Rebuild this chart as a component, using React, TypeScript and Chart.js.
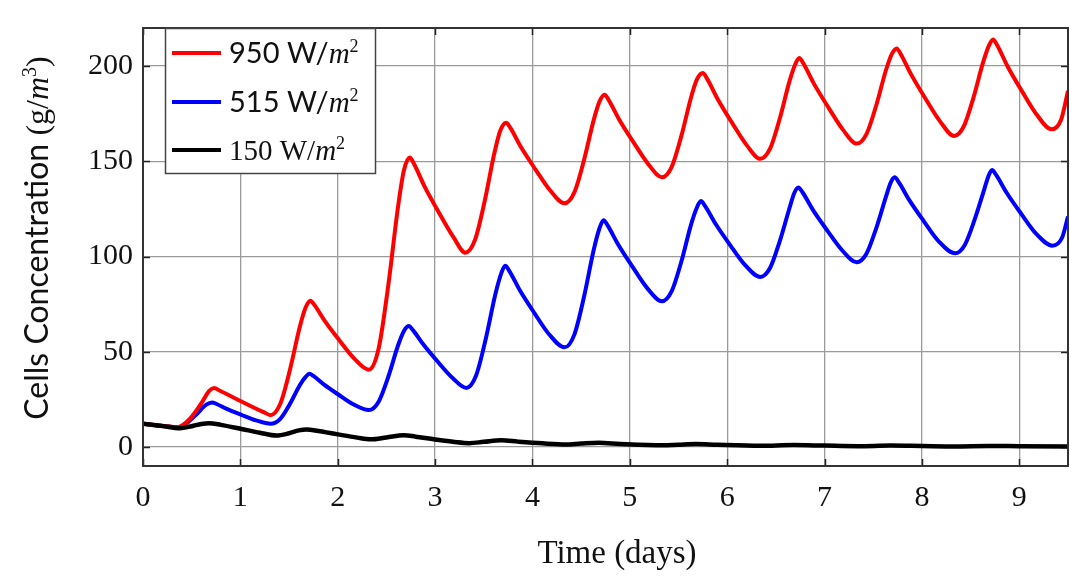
import React, { useEffect, useRef } from "react";
import { Chart, registerables } from "chart.js";

Chart.register(...registerables);

const xTicks = [0, 1, 2, 3, 4, 5, 6, 7, 8, 9];
const yTicks = [0, 50, 100, 150, 200];
const X_MAX = 9.5;
const Y_MIN = -10;
const Y_MAX = 220;

const legendValues = ["950", "515", "150"];

// [time (days), concentration (g/m^3)]
const red950: number[][] = [
  [0, 12.2], [0.2, 11], [0.36, 10.4], [0.48, 14.7], [0.6, 23], [0.68, 29.5], [0.73, 31],
  [0.79, 29.5], [1.25, 18], [1.31, 16.7],
  [1.41, 22.7], [1.51, 40.7], [1.61, 63.0], [1.67, 73.2], [1.72, 76.8],
  [1.76, 74.6], [1.87, 65.9], [2.02, 55.8], [2.17, 46.4], [2.32, 40.6],
  [2.42, 51.7], [2.52, 85.2], [2.62, 126.4], [2.68, 145.3], [2.74, 152],
  [2.78, 149], [2.89, 137], [3.04, 123], [3.19, 110], [3.31, 102],
  [3.41, 108.8], [3.51, 129.3], [3.61, 154.6], [3.67, 166.2], [3.73, 170.3],
  [3.77, 167.8], [3.88, 157.6], [4.03, 145.8], [4.18, 134.8], [4.33, 128],
  [4.43, 133.7], [4.53, 150.8], [4.63, 171.9], [4.69, 181.6], [4.74, 185],
  [4.78, 182.4], [4.89, 172], [5.04, 159.8], [5.19, 148.5], [5.33, 141.6],
  [5.43, 147.1], [5.53, 163.5], [5.63, 183.8], [5.69, 193.1], [5.75, 196.4],
  [5.79, 193.7], [5.9, 182.9], [6.05, 170.2], [6.2, 158.5], [6.34, 151.3],
  [6.44, 156.6], [6.54, 172.5], [6.64, 192.1], [6.7, 201.1], [6.74, 204.3],
  [6.78, 201.6], [6.89, 190.8], [7.04, 178.2], [7.19, 166.5], [7.33, 159.3],
  [7.43, 164.3], [7.53, 179.3], [7.63, 197.8], [7.69, 206.3], [7.74, 209.3],
  [7.78, 206.5], [7.89, 195.5], [8.04, 182.6], [8.19, 170.7], [8.33, 163.3],
  [8.43, 168.4], [8.53, 183.6], [8.63, 202.3], [8.69, 211], [8.73, 214],
  [8.77, 211.2], [8.88, 199.8], [9.03, 186.6], [9.18, 174.4], [9.33, 166.8],
  [9.43, 172], [9.5, 187],
];

const blue515: number[][] = [
  [0, 12.2], [0.2, 11], [0.36, 10.4], [0.45, 12.5], [0.55, 17.2], [0.65, 22.2], [0.71, 23.4],
  [0.75, 22.7], [0.86, 20.0], [1.01, 16.9], [1.16, 14.0], [1.31, 12.2],
  [1.41, 14.8], [1.51, 22.7], [1.61, 32.4], [1.67, 36.8], [1.71, 38.4],
  [1.75, 37.3], [1.86, 32.7], [2.01, 27.4], [2.16, 22.4], [2.32, 19.4],
  [2.42, 23.8], [2.52, 37.0], [2.62, 53.4], [2.68, 60.9], [2.73, 63.5],
  [2.77, 61.5], [2.88, 53.8], [3.03, 44.6], [3.18, 36.2], [3.32, 31],
  [3.42, 37.4], [3.52, 56.7], [3.62, 80.4], [3.68, 91.3], [3.72, 95.2],
  [3.76, 92.6], [3.87, 82.3], [4.02, 70.3], [4.17, 59.2], [4.33, 52.3],
  [4.43, 59.0], [4.53, 79.0], [4.63, 103.7], [4.69, 115.1], [4.73, 119.1],
  [4.77, 116.5], [4.88, 106.3], [5.03, 94.4], [5.18, 83.3], [5.33, 76.5],
  [5.43, 81.8], [5.53, 97.5], [5.63, 117.0], [5.69, 125.9], [5.73, 129.1],
  [5.77, 126.7], [5.88, 117.2], [6.03, 106.0], [6.18, 95.7], [6.34, 89.3],
  [6.44, 94.0], [6.54, 108.1], [6.64, 125.5], [6.69, 133.5], [6.73, 136.3],
  [6.77, 134.0], [6.88, 124.5], [7.03, 113.5], [7.18, 103.3], [7.33, 97],
  [7.43, 101.5], [7.53, 114.8], [7.63, 131.3], [7.68, 138.9], [7.72, 141.6],
  [7.76, 139.2], [7.87, 129.6], [8.02, 118.5], [8.17, 108.1], [8.34, 101.7],
  [8.44, 106.1], [8.54, 119.2], [8.64, 135.3], [8.68, 141.8], [8.72, 145.4],
  [8.76, 143.0], [8.87, 133.5], [9.02, 122.4], [9.17, 112.1], [9.34, 105.7],
  [9.44, 110], [9.5, 121],
];

const black150: number[][] = [
  [0, 12.2], [0.2, 11], [0.38, 9.8], [0.5, 10.9], [0.6, 12.1], [0.68, 12.5], [0.8, 11.6],
  [1.0, 9.6], [1.2, 7.5], [1.37, 6.0], [1.5, 7.2], [1.6, 8.7], [1.68, 9.2], [1.8, 8.4],
  [2.0, 6.6], [2.2, 4.9], [2.34, 4.0], [2.5, 5.0], [2.68, 6.2], [2.8, 5.4], [3.0, 3.9],
  [3.2, 2.6], [3.35, 2.0], [3.5, 2.7], [3.68, 3.5], [3.85, 2.8], [4.1, 1.9], [4.34, 1.3],
  [4.5, 1.8], [4.68, 2.2], [4.9, 1.6], [5.34, 0.9], [5.5, 1.2], [5.68, 1.5], [5.9, 1.1],
  [6.34, 0.6], [6.68, 1.0], [7.0, 0.7], [7.34, 0.4], [7.68, 0.7], [8.0, 0.5], [8.34, 0.3],
  [8.68, 0.5], [9.0, 0.4], [9.5, 0.3],
];

const SERIF = '"Liberation Serif", "Times New Roman", serif';
const SANS = 'Lato, "Noto Sans", sans-serif';

type Run = { t: string; font: string; dy?: number };

function drawRuns(ctx: CanvasRenderingContext2D, runs: Run[], x: number, y: number) {
  let cx = x;
  for (const r of runs) {
    ctx.font = r.font;
    ctx.fillText(r.t, cx, y + (r.dy || 0));
    cx += ctx.measureText(r.t).width;
  }
  return cx - x;
}

function unitRuns(prefix: string, sansPrefix: boolean, sup: string, size: number): Run[] {
  return [
    { t: prefix, font: `${size}px ${sansPrefix ? SANS : SERIF}` },
    { t: "m", font: `italic ${size}px ${SERIF}` },
    { t: sup, font: `${Math.round(size * 0.62)}px ${SERIF}`, dy: -size * 0.38 },
  ];
}

const decorPlugin = {
  id: "decor",
  beforeDatasetsDraw(chart: any) {
    const { ctx, chartArea: a, scales } = chart;
    ctx.save();
    ctx.strokeStyle = "#222";
    ctx.lineWidth = 1.5;
    const tl = 7;
    for (const v of xTicks) {
      const px = Math.round(scales.x.getPixelForValue(v)) + 0.5;
      ctx.beginPath();
      ctx.moveTo(px, a.bottom); ctx.lineTo(px, a.bottom - tl);
      ctx.moveTo(px, a.top); ctx.lineTo(px, a.top + tl);
      ctx.stroke();
    }
    for (const v of yTicks) {
      const py = Math.round(scales.y.getPixelForValue(v)) + 0.5;
      ctx.beginPath();
      ctx.moveTo(a.left, py); ctx.lineTo(a.left + tl, py);
      ctx.moveTo(a.right, py); ctx.lineTo(a.right - tl, py);
      ctx.stroke();
    }
    ctx.restore();
  },
  afterDatasetsDraw(chart: any) {
    const { ctx, chartArea: a } = chart;
    ctx.save();
    // frame
    ctx.strokeStyle = "#333";
    ctx.lineWidth = 2;
    ctx.strokeRect(a.left, a.top, a.right - a.left, a.bottom - a.top);

    // legend
    const bx = 165.5, by = 28.5, bw = 210, bh = 145;
    ctx.fillStyle = "#fff";
    ctx.fillRect(bx, by, bw, bh);
    ctx.strokeStyle = "#444";
    ctx.lineWidth = 1.5;
    ctx.strokeRect(bx, by, bw, bh);
    const colors = ["#ff0000", "#0000ff", "#000000"];
    const rowsY = [53, 102, 150];
    ctx.textBaseline = "alphabetic";
    ctx.fillStyle = "#111";
    legendValues.forEach((val, i) => {
      const y = rowsY[i];
      ctx.strokeStyle = colors[i];
      ctx.lineWidth = 4;
      ctx.beginPath();
      ctx.moveTo(172, y);
      ctx.lineTo(221, y);
      ctx.stroke();
      ctx.fillStyle = "#111";
      const serifItem = i === 2;
      drawRuns(ctx, unitRuns(val + " W/", !serifItem, "2", 29), 229, y + 10);
    });

    // x title
    ctx.fillStyle = "#111";
    ctx.font = `33px ${SERIF}`;
    ctx.textAlign = "center";
    ctx.fillText("Time (days)", 617, 563);

    // y title
    ctx.save();
    ctx.translate(48, 238);
    ctx.rotate(-Math.PI / 2);
    ctx.textAlign = "left";
    const runs: Run[] = [
      { t: "Cells Concentration ", font: `32px ${SANS}` },
      { t: "(g/", font: `32px ${SERIF}` },
      { t: "m", font: `italic 32px ${SERIF}` },
      { t: "3", font: `20px ${SERIF}`, dy: -12 },
      { t: ")", font: `32px ${SERIF}` },
    ];
    let w = 0;
    for (const r of runs) { ctx.font = r.font; w += ctx.measureText(r.t).width; }
    drawRuns(ctx, runs, -w / 2, 0);
    ctx.restore();
    ctx.restore();
  },
};

export default function App() {
  const ref = useRef<HTMLCanvasElement | null>(null);
  useEffect(() => {
    if (!ref.current) return;
    const toXY = (arr: number[][]) => arr.map(([x, y]) => ({ x, y }));
    const common = { pointRadius: 0, cubicInterpolationMode: "monotone" as const, fill: false };
    const chart = new Chart(ref.current, {
      type: "line",
      data: {
        datasets: [
          { label: "150 W/m2", data: toXY(black150), borderColor: "#000000", borderWidth: 4.5, ...common },
          { label: "950 W/m2", data: toXY(red950), borderColor: "#ff0000", borderWidth: 4, ...common },
          { label: "515 W/m2", data: toXY(blue515), borderColor: "#0000ff", borderWidth: 4, ...common },
        ],
      },
      options: {
        animation: false,
        responsive: false,
        maintainAspectRatio: false,
        layout: { padding: { top: 7, right: 2, left: 0, bottom: 0 } },
        plugins: { legend: { display: false }, tooltip: { enabled: false } },
        scales: {
          x: {
            type: "linear",
            min: 0,
            max: X_MAX,
            afterBuildTicks: (s: any) => { s.ticks = xTicks.map((v) => ({ value: v })); },
            afterFit: (s: any) => { s.height = 112; },
            grid: { color: "#9a9a9a", lineWidth: 1.3, drawTicks: false },
            border: { display: false },
            ticks: { font: { family: SERIF, size: 30 }, color: "#111", padding: 14, maxRotation: 0 },
          },
          y: {
            type: "linear",
            min: Y_MIN,
            max: Y_MAX,
            afterBuildTicks: (s: any) => { s.ticks = yTicks.map((v) => ({ value: v })); },
            afterFit: (s: any) => { s.width = 143; },
            grid: { color: "#9a9a9a", lineWidth: 1.3, drawTicks: false },
            border: { display: false },
            ticks: { font: { family: SERIF, size: 30 }, color: "#111", padding: 10 },
          },
        },
      },
      plugins: [decorPlugin],
    });
    return () => chart.destroy();
  }, []);
  return (
    <div style={{ position: "fixed", left: 0, top: 0, width: 1070, height: 578, background: "#fff" }}>
      <canvas ref={ref} width={1070} height={578} style={{ width: 1070, height: 578 }} />
    </div>
  );
}
